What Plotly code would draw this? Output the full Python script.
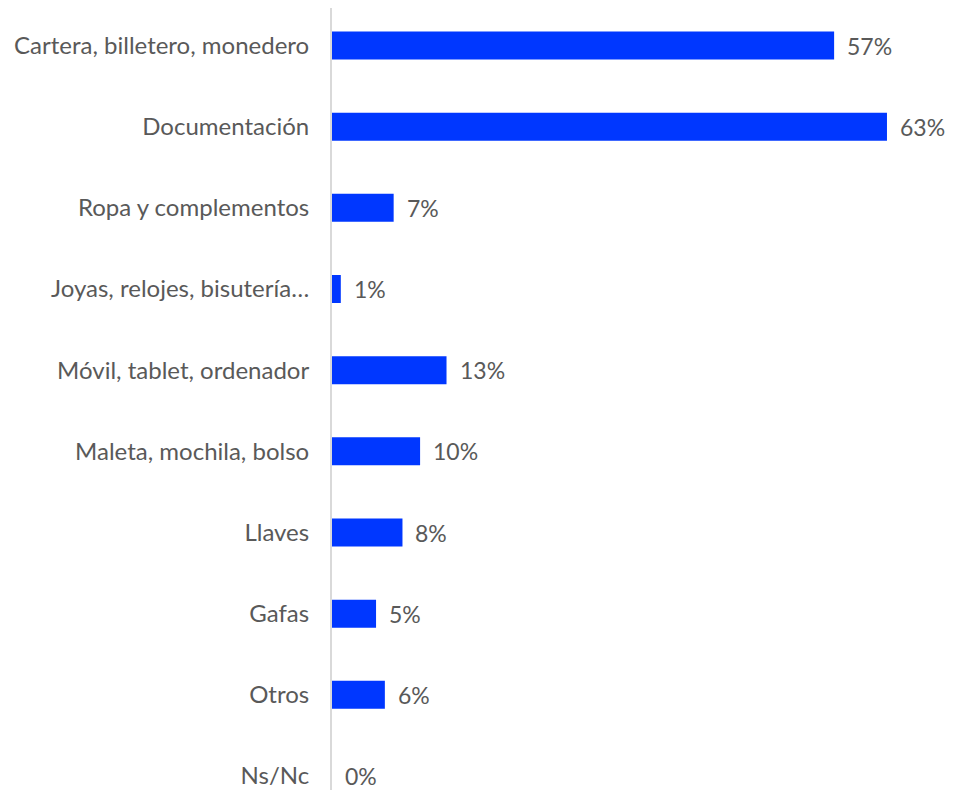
import plotly.graph_objects as go

categories = ["Cartera, billetero, monedero", "Documentación", "Ropa y complementos",
              "Joyas, relojes, bisutería…", "Móvil, tablet, ordenador", "Maleta, mochila, bolso",
              "Llaves", "Gafas", "Otros", "Ns/Nc"]
values = [57, 63, 7, 1, 13, 10, 8, 5, 6, 0]
labels = [f"{v}%" for v in values]

FONT = "Lato, 'Open Sans', sans-serif"
GRAY = "#595959"

fig = go.Figure(go.Bar(
    x=values, y=categories, orientation="h",
    marker=dict(color="#0037FF", line=dict(width=0)),
    width=0.345, hoverinfo="skip",
))

for c, v, t in zip(categories, values, labels):
    fig.add_annotation(x=v, y=c, text=t, showarrow=False, xanchor="left",
                       xshift=11, font=dict(family=FONT, size=23, color=GRAY))

fig.update_layout(
    width=938, height=782,
    margin=dict(l=324, r=0, t=0, b=0),
    paper_bgcolor="white", plot_bgcolor="white",
    showlegend=False,
    xaxis=dict(range=[0, 69.7], visible=False, fixedrange=True),
    yaxis=dict(range=[9.172, -0.462], showline=True, linecolor="#D9D9D9", linewidth=2,
               showgrid=False, zeroline=False, ticks="",
               ticklabelstandoff=16,
               tickfont=dict(family=FONT, size=24, color=GRAY)),
)

fig.write_html("out.html")
